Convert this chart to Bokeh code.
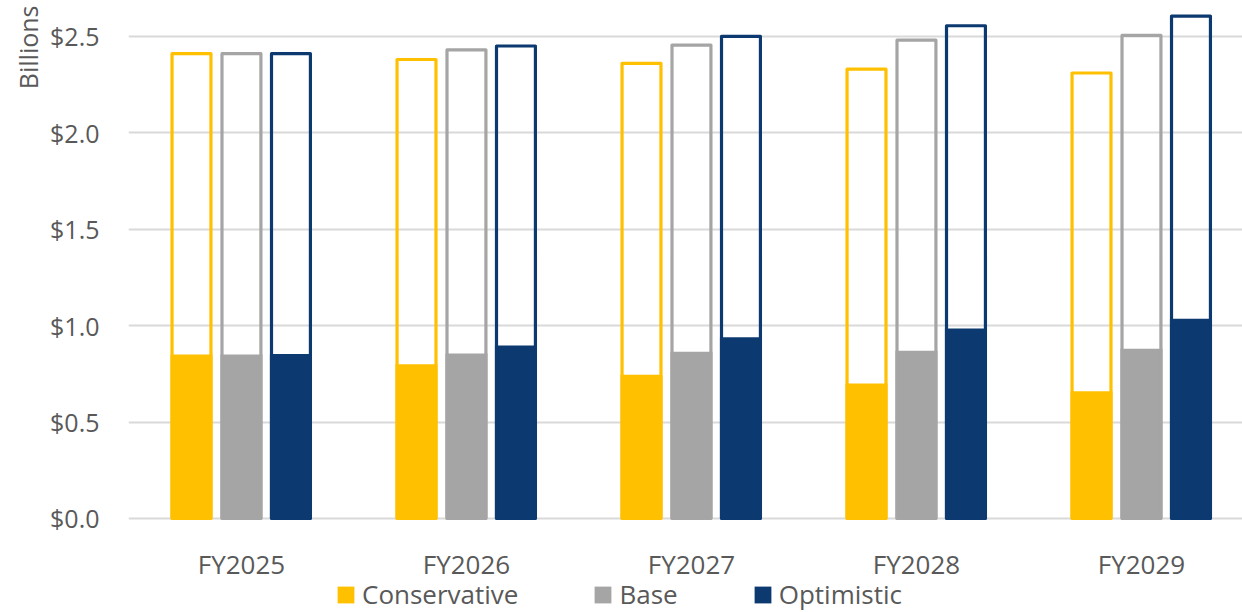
from bokeh.plotting import figure
from bokeh.models import (ColumnDataSource, Range1d, FixedTicker, NumeralTickFormatter,
                          Legend, LegendItem, Title)
from bokeh.core.properties import value
from bokeh.transform import dodge
from bokeh.embed import file_html
from bokeh.resources import INLINE

years = ["FY2025", "FY2026", "FY2027", "FY2028", "FY2029"]
cons_total = [2.41, 2.38, 2.36, 2.33, 2.31]
base_total = [2.41, 2.43, 2.455, 2.48, 2.505]
opt_total = [2.41, 2.45, 2.50, 2.555, 2.605]
cons_fill = [0.85, 0.80, 0.745, 0.70, 0.66]
base_fill = [0.85, 0.856, 0.865, 0.87, 0.88]
opt_fill = [0.853, 0.897, 0.94, 0.985, 1.035]
y_ticks = [0, 0.5, 1.0, 1.5, 2.0, 2.5]

series = ["Conservative", "Base", "Optimistic"]
colors = ["#FFC000", "#A5A5A5", "#0C3A70"]

src = ColumnDataSource(dict(
    idx=list(range(len(years))), years=years,
    cons_total=cons_total, base_total=base_total, opt_total=opt_total,
    cons_fill=cons_fill, base_fill=base_fill, opt_fill=opt_fill,
))

FONT = "Open Sans"
TXT = "#595959"

p = figure(width=1242, height=612, output_backend="svg", toolbar_location=None,
           x_range=Range1d(-0.502, 4.449), y_range=Range1d(-0.4876, 2.66),
           min_border_left=128, min_border_right=0, min_border_top=5,
           min_border_bottom=0)
p.outline_line_color = None
p.background_fill_color = "white"
p.border_fill_color = "white"
p.xaxis.visible = False

offsets = [-0.222, 0.0, 0.22]
totals = ["cons_total", "base_total", "opt_total"]
fills = ["cons_fill", "base_fill", "opt_fill"]
fill_renderers = []
for off, tot, fil, col in zip(offsets, totals, fills, colors):
    r = p.vbar(x=dodge("idx", off), top=fil, bottom=0, width=0.187, source=src,
               fill_color=col, line_color=None)
    fill_renderers.append(r)
    p.vbar(x=dodge("idx", off), top=tot, bottom=0, width=0.173, source=src,
           fill_color=None, line_color=col, line_width=3.2, line_join="round")

# category labels below the baseline
p.text(x="idx", y=0, text="years", source=src, text_align="center",
       text_baseline="alphabetic", y_offset=46, text_font=value(FONT),
       text_font_size="26px", text_color=TXT)

p.yaxis.ticker = FixedTicker(ticks=y_ticks)
p.yaxis.formatter = NumeralTickFormatter(format="$0.0")
p.yaxis.axis_line_color = None
p.yaxis.major_tick_line_color = None
p.yaxis.minor_tick_line_color = None
p.yaxis.major_label_text_font = FONT
p.yaxis.major_label_text_font_size = "25px"
p.yaxis.major_label_text_color = TXT
p.yaxis.major_label_standoff = 23

p.xgrid.grid_line_color = None
p.ygrid.grid_line_color = "#D9D9D9"
p.ygrid.grid_line_width = 2
p.ygrid.ticker = FixedTicker(ticks=y_ticks)

p.add_layout(Title(text="Billions", align="right", text_font=FONT, text_font_size="25px",
                   text_font_style="normal", text_color=TXT, standoff=6), "left")

legend = Legend(items=[LegendItem(label=s, renderers=[r]) for s, r in zip(series, fill_renderers)],
                orientation="horizontal", location=(207, 0), padding=0, margin=0,
                border_line_color=None, background_fill_alpha=0,
                glyph_width=21, glyph_height=21, label_standoff=6, spacing=74,
                label_text_font=FONT, label_text_font_size="26px", label_text_color=TXT)
p.add_layout(legend, "center")

open("out.html", "w").write(file_html(p, INLINE))
